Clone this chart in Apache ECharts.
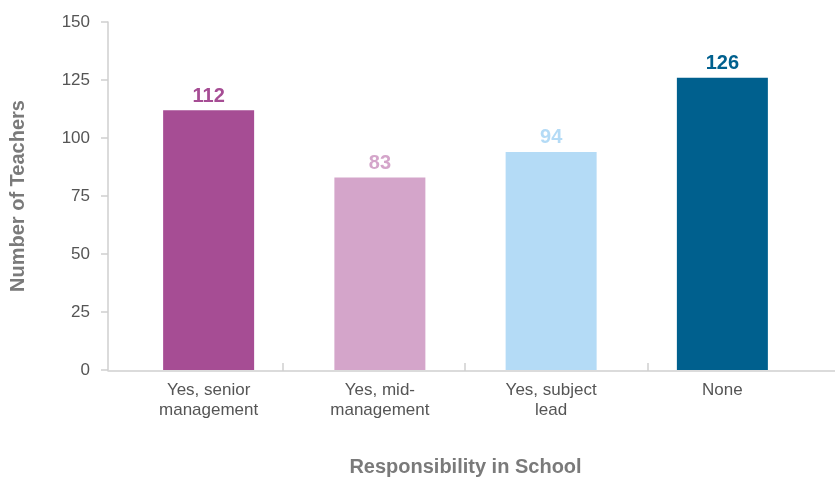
<!DOCTYPE html>
<html>
<head>
<meta charset="utf-8">
<script src="https://cdn.jsdelivr.net/npm/echarts@6/dist/echarts.min.js"></script>
<style>
  html, body { margin: 0; padding: 0; background: #fff; }
  #chart { width: 835px; height: 482px; }
</style>
</head>
<body>
<div id="chart"></div>
<script>
// Teachers by school responsibility
const categories = ['Yes, senior\nmanagement', 'Yes, mid-\nmanagement', 'Yes, subject\nlead', 'None'];
const teacherCounts = [112, 83, 94, 126];
const barColors = ['#a64d94', '#d4a5ca', '#b4dbf6', '#00608e'];
const yTicks = [0, 25, 50, 75, 100, 125, 150];

const FONT = 'Liberation Sans, Arial, sans-serif';
const AXIS_GREY = '#cfcfcf';

const chart = echarts.init(document.getElementById('chart'), null, { renderer: 'canvas' });

chart.setOption({
  animation: false,
  backgroundColor: '#ffffff',
  textStyle: { fontFamily: FONT },
  grid: [
    // plotting grid for the bars
    { left: 123, right: 27, top: 22, bottom: 111, containLabel: false },
    // full-width baseline with divider ticks
    { left: 108, right: 0, top: 22, bottom: 111, containLabel: false }
  ],
  xAxis: [
    {
      type: 'category',
      gridIndex: 0,
      data: categories,
      axisLine: { show: false },
      axisTick: { show: false },
      axisLabel: {
        color: '#555555',
        fontSize: 17,
        lineHeight: 20,
        margin: 10,
        fontFamily: FONT
      },
      name: 'Responsibility in School',
      nameLocation: 'middle',
      nameGap: 87,
      nameTextStyle: { color: '#7a7a7a', fontSize: 20, fontWeight: 'bold', fontFamily: FONT }
    },
    {
      type: 'value',
      gridIndex: 1,
      min: 0,
      max: 727,
      axisLine: { show: true, lineStyle: { color: AXIS_GREY, width: 1.5 } },
      axisTick: {
        show: true,
        inside: true,
        length: 8,
        customValues: [175, 357, 540],
        lineStyle: { color: AXIS_GREY, width: 1.5 }
      },
      axisLabel: { show: false },
      splitLine: { show: false }
    }
  ],
  yAxis: [
    {
      type: 'value',
      gridIndex: 0,
      min: 0,
      max: 150,
      interval: 25,
      offset: 15,
      axisLine: { show: true, lineStyle: { color: AXIS_GREY, width: 1.5 } },
      axisTick: { show: true, length: 7, lineStyle: { color: AXIS_GREY, width: 1.5 } },
      splitLine: { show: false },
      axisLabel: {
        color: '#555555',
        fontSize: 17,
        margin: 18,
        fontFamily: FONT,
        customValues: yTicks
      },
      name: 'Number of Teachers',
      nameLocation: 'middle',
      nameGap: 80,
      nameTextStyle: { color: '#7a7a7a', fontSize: 20, fontWeight: 'bold', fontFamily: FONT }
    },
    {
      type: 'value',
      gridIndex: 1,
      min: 0,
      max: 150,
      show: false
    }
  ],
  series: [
    {
      type: 'bar',
      xAxisIndex: 0,
      yAxisIndex: 0,
      barWidth: 91,
      data: teacherCounts.map((v, i) => ({
        value: v,
        itemStyle: { color: barColors[i] },
        label: { color: barColors[i] }
      })),
      label: {
        show: true,
        position: 'top',
        distance: 4,
        fontSize: 20,
        fontWeight: 'bold',
        fontFamily: FONT
      }
    }
  ]
});
</script>
</body>
</html>
